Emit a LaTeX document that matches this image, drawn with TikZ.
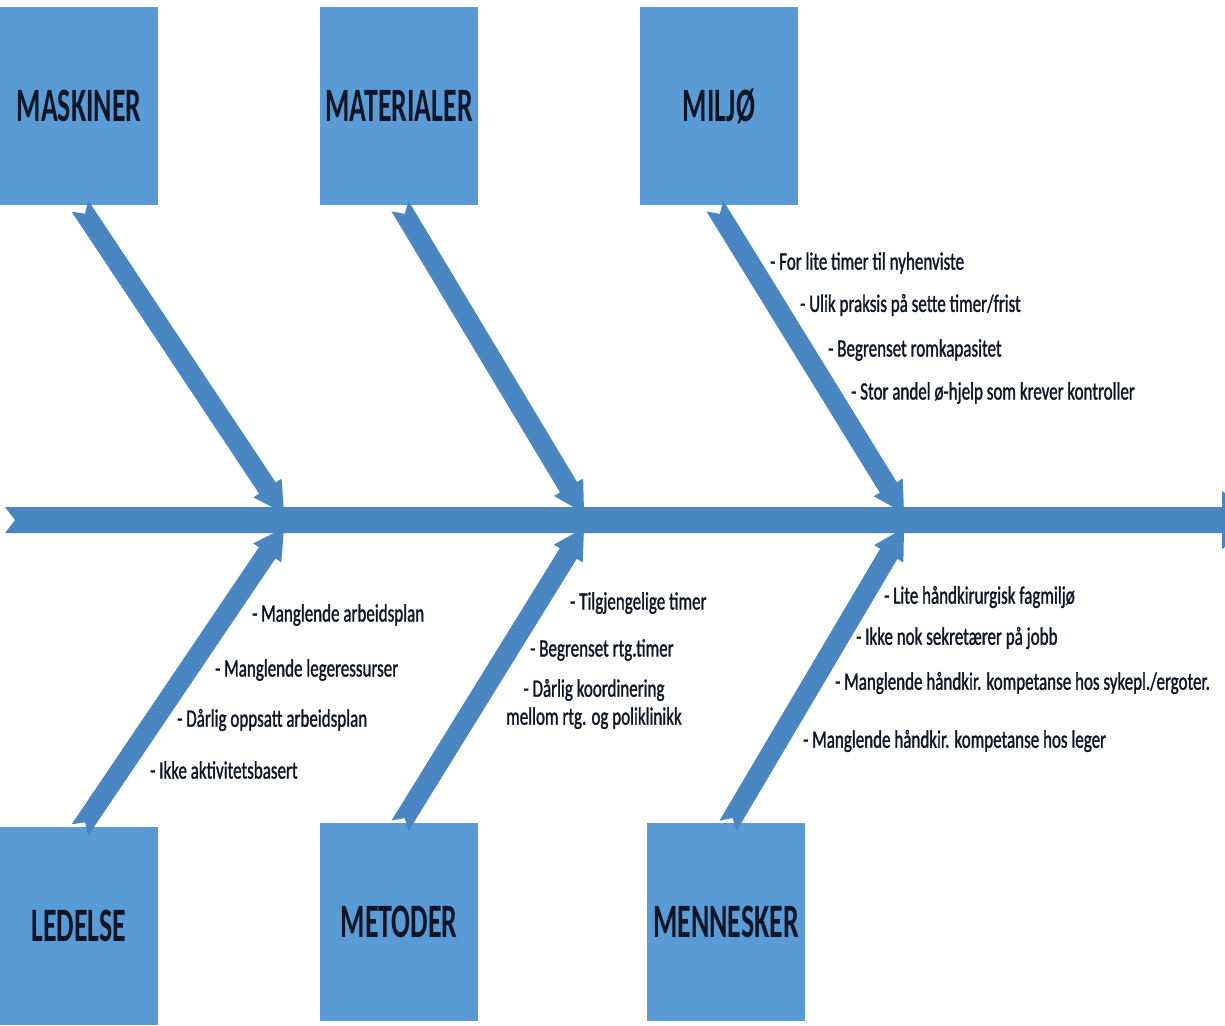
\documentclass[tikz,border=0pt]{standalone}
\usepackage{fontspec}
\setmainfont{Carlito}[FakeStretch=0.68, FakeBold=1.2]
\newfontfamily\headfont{Carlito}[FakeStretch=0.58]
\usetikzlibrary{calc}
\definecolor{boxblue}{HTML}{5B9BD5}
\definecolor{bonefill}{HTML}{4A86C2}
\definecolor{inkdark}{HTML}{0E1526}

\tikzset{
  category/.style={fill=boxblue, minimum width=158pt, minimum height=198pt, inner sep=0pt,
    text=inkdark, font=\headfont\bfseries\fontsize{48}{50}\selectfont},
  cause/.style={anchor=west, inner sep=0pt, text=inkdark, font=\fontsize{25}{28}\selectfont}
}

% notched block arrow from #1 (tail) to #2 (tip)
\newcommand\bone[2]{%
  \path ($(#2)!30pt!(#1)$) coordinate (hb);
  \fill[bonefill] ($(#1)!10pt!90:(#2)$) -- ($(#1)!9pt!(#2)$) -- ($(#1)!10pt!-90:(#2)$)
    -- ($(hb)!10pt!-90:(#2)$) -- ($(hb)!17pt!-90:(#2)$) -- (#2)
    -- ($(hb)!17pt!90:(#2)$) -- ($(hb)!10pt!90:(#2)$) -- cycle;
}

\begin{document}
\begin{tikzpicture}[x=1pt, y=-1pt]
  \useasboundingbox (0,0) rectangle (1225,1025);
  \clip (0,0) rectangle (1225,1025);

  \node[category] at (79,106) (maskiner){MASKINER};
  \node[category] at (399,106) (materialer){MATERIALER};
  \node[category] at (719,106) (miljo){MILJØ};
  \node[category] at (79,926) (ledelse){LEDELSE};
  \node[category] at (399,922) (metoder){METODER};
  \node[category] at (726,922) (mennesker){MENNESKER};

  \coordinate (tail) at (5,520);
  \coordinate (head) at (1262,520);
  \fill[bonefill] ($(tail)+(0,-13)$) -- ($(tail)+(10,0)$) -- ($(tail)+(0,13)$)
    -- ($(head)+(-40,13)$) -- ($(head)+(-40,29)$) -- (head)
    -- ($(head)+(-40,-29)$) -- ($(head)+(-40,-13)$) -- cycle;

  \coordinate (t1) at (284,513);
  \coordinate (t2) at (584,513);
  \coordinate (t3) at (904,513);
  \coordinate (b1) at (284,528);
  \coordinate (b2) at (584,528);
  \coordinate (b3) at (904,528);

  \bone{$(maskiner.south)+(1,1)$}{t1}
  \bone{$(materialer.south)+(1,1)$}{t2}
  \bone{$(miljo.south)+(-4,1)$}{t3}
  \bone{$(ledelse.north)+(1,3)$}{b1}
  \bone{$(metoder.north)+(1,3)$}{b2}
  \bone{$(mennesker.north)+(2,3)$}{b3}

  \node[cause] at (770,263) (mi1){- For lite timer til nyhenviste};
  \node[cause] at (800,305) (mi2){- Ulik praksis på sette timer/frist};
  \node[cause] at (828,350) (mi3){- Begrenset romkapasitet};
  \node[cause] at (851,393) (mi4){- Stor andel ø-hjelp som krever kontroller};

  \node[cause] at (252,615) (le1){- Manglende arbeidsplan};
  \node[cause] at (215,670) (le2){- Manglende legeressurser};
  \node[cause] at (177,720) (le3){- Dårlig oppsatt arbeidsplan};
  \node[cause] at (150,770) (le4){- Ikke aktivitetsbasert};

  \node[cause] at (570,603) (me1){- Tilgjengelige timer};
  \node[cause] at (530,650) (me2){- Begrenset rtg.timer};
  \node[cause, anchor=center, align=center] at (594,704) (me3){- Dårlig koordinering\\mellom rtg. og poliklinikk};

  \node[cause] at (884,597) (mn1){- Lite håndkirurgisk fagmiljø};
  \node[cause] at (856,638) (mn2){- Ikke nok sekretærer på jobb};
  \node[cause] at (835,683) (mn3){- Manglende håndkir. kompetanse hos sykepl./ergoter.};
  \node[cause] at (803,741) (mn4){- Manglende håndkir. kompetanse hos leger};
\end{tikzpicture}
\end{document}
